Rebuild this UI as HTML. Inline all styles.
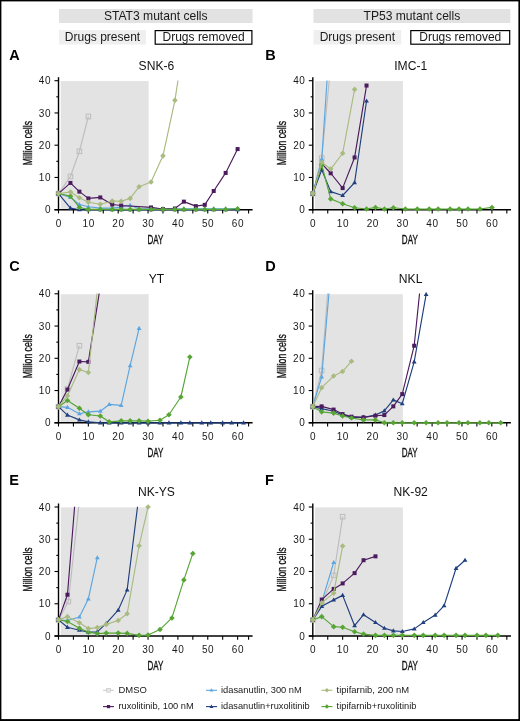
<!DOCTYPE html>
<html><head><meta charset="utf-8"><style>
html,body{margin:0;padding:0;background:#fff;width:520px;height:721px;overflow:hidden}
svg{display:block;will-change:transform}
</style></head><body>
<svg width="520" height="721" viewBox="0 0 520 721" font-family='"Liberation Sans", sans-serif'>
<rect x="0" y="0" width="520" height="721" fill="#fff"/>
<rect x="59" y="9" width="193.5" height="14" fill="#e2e2e2"/>
<text x="155.75" y="20.2" font-size="12.1" text-anchor="middle" fill="#1a1a1a">STAT3 mutant cells</text>
<rect x="59" y="30" width="87" height="14.5" fill="#efefef"/>
<text x="102.5" y="41.3" font-size="12" text-anchor="middle" fill="#1a1a1a">Drugs present</text>
<rect x="155.2" y="30.6" width="96.7" height="13.6" fill="#fff" stroke="#000" stroke-width="1.2"/>
<text x="203.55" y="41.3" font-size="12" text-anchor="middle" fill="#1a1a1a">Drugs removed</text>
<rect x="313.5" y="9" width="196.8" height="14" fill="#e2e2e2"/>
<text x="411.9" y="20.2" font-size="12.1" text-anchor="middle" fill="#1a1a1a">TP53 mutant cells</text>
<rect x="313.5" y="30" width="87.69999999999999" height="14.5" fill="#efefef"/>
<text x="357.35" y="41.3" font-size="12" text-anchor="middle" fill="#1a1a1a">Drugs present</text>
<rect x="410.8" y="30.6" width="98.90000000000002" height="13.6" fill="#fff" stroke="#000" stroke-width="1.2"/>
<text x="460.25" y="41.3" font-size="12" text-anchor="middle" fill="#1a1a1a">Drugs removed</text>
<clipPath id="clipA"><rect x="52.5" y="80.40" width="520" height="139.00"/></clipPath>
<rect x="60.70" y="81.10" width="87.95" height="128.60" fill="#e3e3e3"/>
<line x1="58.5" y1="77.20" x2="58.5" y2="210.45" stroke="#000" stroke-width="1.4"/>
<line x1="54.5" y1="209.7" x2="252.60" y2="209.7" stroke="#000" stroke-width="1.6"/>
<line x1="248.60" y1="209.7" x2="248.60" y2="213.39999999999998" stroke="#000" stroke-width="1.1"/>
<line x1="54.5" y1="209.70" x2="58.5" y2="209.70" stroke="#000" stroke-width="1.1"/>
<text transform="translate(51.20,213.30)" font-size="10.0" letter-spacing="0.6" text-anchor="end" fill="#1a1a1a">0</text>
<line x1="56.3" y1="193.57" x2="58.5" y2="193.57" stroke="#000" stroke-width="1.1"/>
<line x1="54.5" y1="177.45" x2="58.5" y2="177.45" stroke="#000" stroke-width="1.1"/>
<text transform="translate(51.20,181.05)" font-size="10.0" letter-spacing="0.6" text-anchor="end" fill="#1a1a1a">10</text>
<line x1="56.3" y1="161.32" x2="58.5" y2="161.32" stroke="#000" stroke-width="1.1"/>
<line x1="54.5" y1="145.20" x2="58.5" y2="145.20" stroke="#000" stroke-width="1.1"/>
<text transform="translate(51.20,148.80)" font-size="10.0" letter-spacing="0.6" text-anchor="end" fill="#1a1a1a">20</text>
<line x1="56.3" y1="129.07" x2="58.5" y2="129.07" stroke="#000" stroke-width="1.1"/>
<line x1="54.5" y1="112.95" x2="58.5" y2="112.95" stroke="#000" stroke-width="1.1"/>
<text transform="translate(51.20,116.55)" font-size="10.0" letter-spacing="0.6" text-anchor="end" fill="#1a1a1a">30</text>
<line x1="56.3" y1="96.82" x2="58.5" y2="96.82" stroke="#000" stroke-width="1.1"/>
<line x1="54.5" y1="80.70" x2="58.5" y2="80.70" stroke="#000" stroke-width="1.1"/>
<text transform="translate(51.20,84.30)" font-size="10.0" letter-spacing="0.6" text-anchor="end" fill="#1a1a1a">40</text>
<line x1="58.50" y1="209.7" x2="58.50" y2="213.39999999999998" stroke="#000" stroke-width="1.1"/>
<text transform="translate(58.80,226.60)" font-size="10.0" letter-spacing="0.6" text-anchor="middle" fill="#1a1a1a">0</text>
<line x1="73.42" y1="209.7" x2="73.42" y2="213.39999999999998" stroke="#000" stroke-width="1.1"/>
<line x1="88.35" y1="209.7" x2="88.35" y2="213.39999999999998" stroke="#000" stroke-width="1.1"/>
<text transform="translate(88.65,226.60)" font-size="10.0" letter-spacing="0.6" text-anchor="middle" fill="#1a1a1a">10</text>
<line x1="103.28" y1="209.7" x2="103.28" y2="213.39999999999998" stroke="#000" stroke-width="1.1"/>
<line x1="118.20" y1="209.7" x2="118.20" y2="213.39999999999998" stroke="#000" stroke-width="1.1"/>
<text transform="translate(118.50,226.60)" font-size="10.0" letter-spacing="0.6" text-anchor="middle" fill="#1a1a1a">20</text>
<line x1="133.12" y1="209.7" x2="133.12" y2="213.39999999999998" stroke="#000" stroke-width="1.1"/>
<line x1="148.05" y1="209.7" x2="148.05" y2="213.39999999999998" stroke="#000" stroke-width="1.1"/>
<text transform="translate(148.35,226.60)" font-size="10.0" letter-spacing="0.6" text-anchor="middle" fill="#1a1a1a">30</text>
<line x1="162.97" y1="209.7" x2="162.97" y2="213.39999999999998" stroke="#000" stroke-width="1.1"/>
<line x1="177.90" y1="209.7" x2="177.90" y2="213.39999999999998" stroke="#000" stroke-width="1.1"/>
<text transform="translate(178.20,226.60)" font-size="10.0" letter-spacing="0.6" text-anchor="middle" fill="#1a1a1a">40</text>
<line x1="192.82" y1="209.7" x2="192.82" y2="213.39999999999998" stroke="#000" stroke-width="1.1"/>
<line x1="207.75" y1="209.7" x2="207.75" y2="213.39999999999998" stroke="#000" stroke-width="1.1"/>
<text transform="translate(208.05,226.60)" font-size="10.0" letter-spacing="0.6" text-anchor="middle" fill="#1a1a1a">50</text>
<line x1="222.67" y1="209.7" x2="222.67" y2="213.39999999999998" stroke="#000" stroke-width="1.1"/>
<line x1="237.60" y1="209.7" x2="237.60" y2="213.39999999999998" stroke="#000" stroke-width="1.1"/>
<text transform="translate(237.90,226.60)" font-size="10.0" letter-spacing="0.6" text-anchor="middle" fill="#1a1a1a">60</text>
<text transform="translate(155.51,243.70) scale(0.62,1)" font-size="13" text-anchor="middle" fill="#111" stroke="#111" stroke-width="0.35">DAY</text>
<text transform="translate(31.50,143.10) rotate(-90) scale(0.665,1)" font-size="13" text-anchor="middle" fill="#111" stroke="#111" stroke-width="0.35">Million cells</text>
<text x="156.41" y="69.90" font-size="12.1" text-anchor="middle" fill="#111">SNK-6</text>
<text x="9.20" y="59.50" font-size="14.5" font-weight="bold" fill="#000">A</text>
<polyline clip-path="url(#clipA)" points="58.50,193.57 70.44,176.48 79.39,151.33 88.35,116.50" fill="none" stroke="#bdbdbd" stroke-width="1.15" stroke-linejoin="round"/>
<rect x="56.20" y="191.27" width="4.6" height="4.6" fill="none" stroke="#bdbdbd" stroke-width="1"/>
<rect x="68.14" y="174.18" width="4.6" height="4.6" fill="none" stroke="#bdbdbd" stroke-width="1"/>
<rect x="77.09" y="149.03" width="4.6" height="4.6" fill="none" stroke="#bdbdbd" stroke-width="1"/>
<rect x="86.05" y="114.20" width="4.6" height="4.6" fill="none" stroke="#bdbdbd" stroke-width="1"/>
<polyline clip-path="url(#clipA)" points="58.50,193.57 70.44,197.44 79.39,204.54 88.35,206.80 100.29,208.09 112.23,208.09 121.19,207.12 130.14,205.19 139.09,208.73 151.03,208.73 162.97,208.73 174.91,208.73 183.87,208.73 195.81,208.73 204.76,208.73 213.72,208.73 225.66,208.73 237.60,208.73" fill="none" stroke="#5ba6e0" stroke-width="1.15" stroke-linejoin="round"/>
<path d="M58.50,191.07L60.90,195.17L56.10,195.17Z" fill="#5ba6e0"/>
<path d="M70.44,194.94L72.84,199.04L68.04,199.04Z" fill="#5ba6e0"/>
<path d="M79.39,202.04L81.80,206.14L76.99,206.14Z" fill="#5ba6e0"/>
<path d="M88.35,204.30L90.75,208.40L85.95,208.40Z" fill="#5ba6e0"/>
<path d="M100.29,205.59L102.69,209.69L97.89,209.69Z" fill="#5ba6e0"/>
<path d="M112.23,205.59L114.63,209.69L109.83,209.69Z" fill="#5ba6e0"/>
<path d="M121.19,204.62L123.59,208.72L118.78,208.72Z" fill="#5ba6e0"/>
<path d="M130.14,202.69L132.54,206.78L127.74,206.78Z" fill="#5ba6e0"/>
<path d="M139.09,206.23L141.50,210.33L136.69,210.33Z" fill="#5ba6e0"/>
<path d="M151.03,206.23L153.44,210.33L148.63,210.33Z" fill="#5ba6e0"/>
<path d="M162.97,206.23L165.38,210.33L160.57,210.33Z" fill="#5ba6e0"/>
<path d="M174.91,206.23L177.31,210.33L172.51,210.33Z" fill="#5ba6e0"/>
<path d="M183.87,206.23L186.27,210.33L181.47,210.33Z" fill="#5ba6e0"/>
<path d="M195.81,206.23L198.21,210.33L193.41,210.33Z" fill="#5ba6e0"/>
<path d="M204.76,206.23L207.16,210.33L202.36,210.33Z" fill="#5ba6e0"/>
<path d="M213.72,206.23L216.12,210.33L211.32,210.33Z" fill="#5ba6e0"/>
<path d="M225.66,206.23L228.06,210.33L223.26,210.33Z" fill="#5ba6e0"/>
<path d="M237.60,206.23L240.00,210.33L235.20,210.33Z" fill="#5ba6e0"/>
<polyline clip-path="url(#clipA)" points="58.50,193.57 70.44,208.09 79.39,209.70 88.35,209.70 100.29,209.70 112.23,209.70 121.19,209.70 130.14,209.70 139.09,209.70 151.03,209.70 162.97,209.70 174.91,209.70 183.87,209.70 195.81,209.70 204.76,209.70 213.72,209.70 225.66,209.70 237.60,209.70" fill="none" stroke="#1f3f7e" stroke-width="1.15" stroke-linejoin="round"/>
<path d="M58.50,191.07L60.90,195.17L56.10,195.17Z" fill="#1f3f7e"/>
<path d="M70.44,205.59L72.84,209.69L68.04,209.69Z" fill="#1f3f7e"/>
<path d="M79.39,207.20L81.80,211.30L76.99,211.30Z" fill="#1f3f7e"/>
<path d="M88.35,207.20L90.75,211.30L85.95,211.30Z" fill="#1f3f7e"/>
<path d="M100.29,207.20L102.69,211.30L97.89,211.30Z" fill="#1f3f7e"/>
<path d="M112.23,207.20L114.63,211.30L109.83,211.30Z" fill="#1f3f7e"/>
<path d="M121.19,207.20L123.59,211.30L118.78,211.30Z" fill="#1f3f7e"/>
<path d="M130.14,207.20L132.54,211.30L127.74,211.30Z" fill="#1f3f7e"/>
<path d="M139.09,207.20L141.50,211.30L136.69,211.30Z" fill="#1f3f7e"/>
<path d="M151.03,207.20L153.44,211.30L148.63,211.30Z" fill="#1f3f7e"/>
<path d="M162.97,207.20L165.38,211.30L160.57,211.30Z" fill="#1f3f7e"/>
<path d="M174.91,207.20L177.31,211.30L172.51,211.30Z" fill="#1f3f7e"/>
<path d="M183.87,207.20L186.27,211.30L181.47,211.30Z" fill="#1f3f7e"/>
<path d="M195.81,207.20L198.21,211.30L193.41,211.30Z" fill="#1f3f7e"/>
<path d="M204.76,207.20L207.16,211.30L202.36,211.30Z" fill="#1f3f7e"/>
<path d="M213.72,207.20L216.12,211.30L211.32,211.30Z" fill="#1f3f7e"/>
<path d="M225.66,207.20L228.06,211.30L223.26,211.30Z" fill="#1f3f7e"/>
<path d="M237.60,207.20L240.00,211.30L235.20,211.30Z" fill="#1f3f7e"/>
<polyline clip-path="url(#clipA)" points="58.50,193.57 70.44,182.93 79.39,191.64 88.35,198.41 100.29,197.44 112.23,204.54 121.19,205.51 151.03,207.44 162.97,209.05 174.91,208.57 183.87,201.64 195.81,206.15 204.76,204.86 213.72,191.00 225.66,172.94 237.60,149.07" fill="none" stroke="#4b1b5e" stroke-width="1.15" stroke-linejoin="round"/>
<rect x="56.50" y="191.57" width="4" height="4" fill="#4b1b5e"/>
<rect x="68.44" y="180.93" width="4" height="4" fill="#4b1b5e"/>
<rect x="77.39" y="189.64" width="4" height="4" fill="#4b1b5e"/>
<rect x="86.35" y="196.41" width="4" height="4" fill="#4b1b5e"/>
<rect x="98.29" y="195.44" width="4" height="4" fill="#4b1b5e"/>
<rect x="110.23" y="202.54" width="4" height="4" fill="#4b1b5e"/>
<rect x="119.19" y="203.51" width="4" height="4" fill="#4b1b5e"/>
<rect x="149.03" y="205.44" width="4" height="4" fill="#4b1b5e"/>
<rect x="160.97" y="207.05" width="4" height="4" fill="#4b1b5e"/>
<rect x="172.91" y="206.57" width="4" height="4" fill="#4b1b5e"/>
<rect x="181.87" y="199.64" width="4" height="4" fill="#4b1b5e"/>
<rect x="193.81" y="204.15" width="4" height="4" fill="#4b1b5e"/>
<rect x="202.76" y="202.86" width="4" height="4" fill="#4b1b5e"/>
<rect x="211.72" y="189.00" width="4" height="4" fill="#4b1b5e"/>
<rect x="223.66" y="170.94" width="4" height="4" fill="#4b1b5e"/>
<rect x="235.60" y="147.07" width="4" height="4" fill="#4b1b5e"/>
<polyline clip-path="url(#clipA)" points="58.50,193.57 70.44,196.15 79.39,207.44 88.35,209.38 100.29,209.38 112.23,209.38 121.19,209.38 130.14,209.38 139.09,209.38 151.03,209.38 162.97,209.38 174.91,209.38 183.87,209.38 195.81,209.38 204.76,209.38 213.72,209.38 225.66,209.38 237.60,208.73" fill="none" stroke="#56a535" stroke-width="1.15" stroke-linejoin="round"/>
<path d="M58.50,190.77L61.30,193.57L58.50,196.38L55.70,193.57Z" fill="#56a535"/>
<path d="M70.44,193.35L73.24,196.15L70.44,198.95L67.64,196.15Z" fill="#56a535"/>
<path d="M79.39,204.64L82.19,207.44L79.39,210.24L76.59,207.44Z" fill="#56a535"/>
<path d="M88.35,206.58L91.15,209.38L88.35,212.18L85.55,209.38Z" fill="#56a535"/>
<path d="M100.29,206.58L103.09,209.38L100.29,212.18L97.49,209.38Z" fill="#56a535"/>
<path d="M112.23,206.58L115.03,209.38L112.23,212.18L109.43,209.38Z" fill="#56a535"/>
<path d="M121.19,206.58L123.98,209.38L121.19,212.18L118.39,209.38Z" fill="#56a535"/>
<path d="M130.14,206.58L132.94,209.38L130.14,212.18L127.34,209.38Z" fill="#56a535"/>
<path d="M139.09,206.58L141.90,209.38L139.09,212.18L136.29,209.38Z" fill="#56a535"/>
<path d="M151.03,206.58L153.84,209.38L151.03,212.18L148.23,209.38Z" fill="#56a535"/>
<path d="M162.97,206.58L165.78,209.38L162.97,212.18L160.17,209.38Z" fill="#56a535"/>
<path d="M174.91,206.58L177.72,209.38L174.91,212.18L172.11,209.38Z" fill="#56a535"/>
<path d="M183.87,206.58L186.67,209.38L183.87,212.18L181.07,209.38Z" fill="#56a535"/>
<path d="M195.81,206.58L198.61,209.38L195.81,212.18L193.01,209.38Z" fill="#56a535"/>
<path d="M204.76,206.58L207.56,209.38L204.76,212.18L201.96,209.38Z" fill="#56a535"/>
<path d="M213.72,206.58L216.52,209.38L213.72,212.18L210.92,209.38Z" fill="#56a535"/>
<path d="M225.66,206.58L228.46,209.38L225.66,212.18L222.86,209.38Z" fill="#56a535"/>
<path d="M237.60,205.93L240.40,208.73L237.60,211.53L234.80,208.73Z" fill="#56a535"/>
<polyline clip-path="url(#clipA)" points="58.50,193.57 70.44,191.96 79.39,197.77 88.35,202.28 100.29,204.22 112.23,200.99 121.19,201.31 130.14,198.41 139.09,186.80 151.03,181.96 162.97,155.84 174.91,100.37 183.87,42.00" fill="none" stroke="#a9bb80" stroke-width="1.15" stroke-linejoin="round"/>
<path d="M58.50,190.77L61.30,193.57L58.50,196.38L55.70,193.57Z" fill="#a9bb80"/>
<path d="M70.44,189.16L73.24,191.96L70.44,194.76L67.64,191.96Z" fill="#a9bb80"/>
<path d="M79.39,194.97L82.19,197.77L79.39,200.57L76.59,197.77Z" fill="#a9bb80"/>
<path d="M88.35,199.48L91.15,202.28L88.35,205.08L85.55,202.28Z" fill="#a9bb80"/>
<path d="M100.29,201.42L103.09,204.22L100.29,207.02L97.49,204.22Z" fill="#a9bb80"/>
<path d="M112.23,198.19L115.03,200.99L112.23,203.79L109.43,200.99Z" fill="#a9bb80"/>
<path d="M121.19,198.51L123.98,201.31L121.19,204.12L118.39,201.31Z" fill="#a9bb80"/>
<path d="M130.14,195.61L132.94,198.41L130.14,201.21L127.34,198.41Z" fill="#a9bb80"/>
<path d="M139.09,184.00L141.90,186.80L139.09,189.60L136.29,186.80Z" fill="#a9bb80"/>
<path d="M151.03,179.16L153.84,181.96L151.03,184.76L148.23,181.96Z" fill="#a9bb80"/>
<path d="M162.97,153.04L165.78,155.84L162.97,158.64L160.17,155.84Z" fill="#a9bb80"/>
<path d="M174.91,97.57L177.72,100.37L174.91,103.17L172.11,100.37Z" fill="#a9bb80"/>
<clipPath id="clipB"><rect x="306.8" y="80.40" width="520" height="139.00"/></clipPath>
<rect x="315.00" y="81.10" width="87.95" height="128.60" fill="#e3e3e3"/>
<line x1="312.8" y1="77.20" x2="312.8" y2="210.45" stroke="#000" stroke-width="1.4"/>
<line x1="308.8" y1="209.7" x2="511.00" y2="209.7" stroke="#000" stroke-width="1.6"/>
<line x1="308.8" y1="209.70" x2="312.8" y2="209.70" stroke="#000" stroke-width="1.1"/>
<text transform="translate(305.50,213.30)" font-size="10.0" letter-spacing="0.6" text-anchor="end" fill="#1a1a1a">0</text>
<line x1="310.6" y1="193.57" x2="312.8" y2="193.57" stroke="#000" stroke-width="1.1"/>
<line x1="308.8" y1="177.45" x2="312.8" y2="177.45" stroke="#000" stroke-width="1.1"/>
<text transform="translate(305.50,181.05)" font-size="10.0" letter-spacing="0.6" text-anchor="end" fill="#1a1a1a">10</text>
<line x1="310.6" y1="161.32" x2="312.8" y2="161.32" stroke="#000" stroke-width="1.1"/>
<line x1="308.8" y1="145.20" x2="312.8" y2="145.20" stroke="#000" stroke-width="1.1"/>
<text transform="translate(305.50,148.80)" font-size="10.0" letter-spacing="0.6" text-anchor="end" fill="#1a1a1a">20</text>
<line x1="310.6" y1="129.07" x2="312.8" y2="129.07" stroke="#000" stroke-width="1.1"/>
<line x1="308.8" y1="112.95" x2="312.8" y2="112.95" stroke="#000" stroke-width="1.1"/>
<text transform="translate(305.50,116.55)" font-size="10.0" letter-spacing="0.6" text-anchor="end" fill="#1a1a1a">30</text>
<line x1="310.6" y1="96.82" x2="312.8" y2="96.82" stroke="#000" stroke-width="1.1"/>
<line x1="308.8" y1="80.70" x2="312.8" y2="80.70" stroke="#000" stroke-width="1.1"/>
<text transform="translate(305.50,84.30)" font-size="10.0" letter-spacing="0.6" text-anchor="end" fill="#1a1a1a">40</text>
<line x1="312.80" y1="209.7" x2="312.80" y2="213.39999999999998" stroke="#000" stroke-width="1.1"/>
<text transform="translate(313.10,226.60)" font-size="10.0" letter-spacing="0.6" text-anchor="middle" fill="#1a1a1a">0</text>
<line x1="327.73" y1="209.7" x2="327.73" y2="213.39999999999998" stroke="#000" stroke-width="1.1"/>
<line x1="342.65" y1="209.7" x2="342.65" y2="213.39999999999998" stroke="#000" stroke-width="1.1"/>
<text transform="translate(342.95,226.60)" font-size="10.0" letter-spacing="0.6" text-anchor="middle" fill="#1a1a1a">10</text>
<line x1="357.57" y1="209.7" x2="357.57" y2="213.39999999999998" stroke="#000" stroke-width="1.1"/>
<line x1="372.50" y1="209.7" x2="372.50" y2="213.39999999999998" stroke="#000" stroke-width="1.1"/>
<text transform="translate(372.80,226.60)" font-size="10.0" letter-spacing="0.6" text-anchor="middle" fill="#1a1a1a">20</text>
<line x1="387.43" y1="209.7" x2="387.43" y2="213.39999999999998" stroke="#000" stroke-width="1.1"/>
<line x1="402.35" y1="209.7" x2="402.35" y2="213.39999999999998" stroke="#000" stroke-width="1.1"/>
<text transform="translate(402.65,226.60)" font-size="10.0" letter-spacing="0.6" text-anchor="middle" fill="#1a1a1a">30</text>
<line x1="417.27" y1="209.7" x2="417.27" y2="213.39999999999998" stroke="#000" stroke-width="1.1"/>
<line x1="432.20" y1="209.7" x2="432.20" y2="213.39999999999998" stroke="#000" stroke-width="1.1"/>
<text transform="translate(432.50,226.60)" font-size="10.0" letter-spacing="0.6" text-anchor="middle" fill="#1a1a1a">40</text>
<line x1="447.12" y1="209.7" x2="447.12" y2="213.39999999999998" stroke="#000" stroke-width="1.1"/>
<line x1="462.05" y1="209.7" x2="462.05" y2="213.39999999999998" stroke="#000" stroke-width="1.1"/>
<text transform="translate(462.35,226.60)" font-size="10.0" letter-spacing="0.6" text-anchor="middle" fill="#1a1a1a">50</text>
<line x1="476.98" y1="209.7" x2="476.98" y2="213.39999999999998" stroke="#000" stroke-width="1.1"/>
<line x1="491.90" y1="209.7" x2="491.90" y2="213.39999999999998" stroke="#000" stroke-width="1.1"/>
<text transform="translate(492.20,226.60)" font-size="10.0" letter-spacing="0.6" text-anchor="middle" fill="#1a1a1a">60</text>
<line x1="506.83" y1="209.7" x2="506.83" y2="213.39999999999998" stroke="#000" stroke-width="1.1"/>
<text transform="translate(409.81,243.70) scale(0.62,1)" font-size="13" text-anchor="middle" fill="#111" stroke="#111" stroke-width="0.35">DAY</text>
<text transform="translate(285.80,143.10) rotate(-90) scale(0.665,1)" font-size="13" text-anchor="middle" fill="#111" stroke="#111" stroke-width="0.35">Million cells</text>
<text x="410.71" y="69.90" font-size="12.1" text-anchor="middle" fill="#111">IMC-1</text>
<text x="265.20" y="59.50" font-size="14.5" font-weight="bold" fill="#000">B</text>
<polyline clip-path="url(#clipB)" points="312.80,193.57 321.75,158.10 330.71,64.90" fill="none" stroke="#bdbdbd" stroke-width="1.15" stroke-linejoin="round"/>
<rect x="310.50" y="191.27" width="4.6" height="4.6" fill="none" stroke="#bdbdbd" stroke-width="1"/>
<rect x="319.45" y="155.80" width="4.6" height="4.6" fill="none" stroke="#bdbdbd" stroke-width="1"/>
<polyline clip-path="url(#clipB)" points="312.80,193.57 321.75,159.07 330.71,25.55" fill="none" stroke="#5ba6e0" stroke-width="1.15" stroke-linejoin="round"/>
<path d="M312.80,191.07L315.20,195.17L310.40,195.17Z" fill="#5ba6e0"/>
<path d="M321.75,156.57L324.15,160.67L319.36,160.67Z" fill="#5ba6e0"/>
<polyline clip-path="url(#clipB)" points="312.80,193.57 321.75,169.71 330.71,191.64 342.65,195.51 354.59,182.61 366.53,101.02" fill="none" stroke="#1f3f7e" stroke-width="1.15" stroke-linejoin="round"/>
<path d="M312.80,191.07L315.20,195.17L310.40,195.17Z" fill="#1f3f7e"/>
<path d="M321.75,167.21L324.15,171.31L319.36,171.31Z" fill="#1f3f7e"/>
<path d="M330.71,189.14L333.11,193.24L328.31,193.24Z" fill="#1f3f7e"/>
<path d="M342.65,193.01L345.05,197.11L340.25,197.11Z" fill="#1f3f7e"/>
<path d="M354.59,180.11L356.99,184.21L352.19,184.21Z" fill="#1f3f7e"/>
<path d="M366.53,98.52L368.93,102.62L364.13,102.62Z" fill="#1f3f7e"/>
<polyline clip-path="url(#clipB)" points="312.80,193.57 321.75,163.58 330.71,173.26 342.65,188.09 354.59,157.45 366.53,85.54" fill="none" stroke="#4b1b5e" stroke-width="1.15" stroke-linejoin="round"/>
<rect x="310.80" y="191.57" width="4" height="4" fill="#4b1b5e"/>
<rect x="319.75" y="161.58" width="4" height="4" fill="#4b1b5e"/>
<rect x="328.71" y="171.26" width="4" height="4" fill="#4b1b5e"/>
<rect x="340.65" y="186.09" width="4" height="4" fill="#4b1b5e"/>
<rect x="352.59" y="155.45" width="4" height="4" fill="#4b1b5e"/>
<rect x="364.53" y="83.54" width="4" height="4" fill="#4b1b5e"/>
<polyline clip-path="url(#clipB)" points="312.80,193.57 321.75,164.87 330.71,198.90 342.65,203.73 354.59,207.76 366.53,209.05 375.49,207.44 384.44,209.05 393.39,207.76 405.34,209.05 417.27,209.05 429.22,209.05 438.17,209.05 450.11,209.05 459.06,209.05 468.02,209.05 479.96,209.05 491.90,207.44" fill="none" stroke="#56a535" stroke-width="1.15" stroke-linejoin="round"/>
<path d="M312.80,190.77L315.60,193.57L312.80,196.38L310.00,193.57Z" fill="#56a535"/>
<path d="M321.75,162.07L324.56,164.87L321.75,167.67L318.95,164.87Z" fill="#56a535"/>
<path d="M330.71,196.10L333.51,198.90L330.71,201.70L327.91,198.90Z" fill="#56a535"/>
<path d="M342.65,200.93L345.45,203.73L342.65,206.53L339.85,203.73Z" fill="#56a535"/>
<path d="M354.59,204.96L357.39,207.76L354.59,210.56L351.79,207.76Z" fill="#56a535"/>
<path d="M366.53,206.25L369.33,209.05L366.53,211.85L363.73,209.05Z" fill="#56a535"/>
<path d="M375.49,204.64L378.29,207.44L375.49,210.24L372.69,207.44Z" fill="#56a535"/>
<path d="M384.44,206.25L387.24,209.05L384.44,211.85L381.64,209.05Z" fill="#56a535"/>
<path d="M393.39,204.96L396.19,207.76L393.39,210.56L390.59,207.76Z" fill="#56a535"/>
<path d="M405.34,206.25L408.14,209.05L405.34,211.85L402.54,209.05Z" fill="#56a535"/>
<path d="M417.27,206.25L420.07,209.05L417.27,211.85L414.47,209.05Z" fill="#56a535"/>
<path d="M429.22,206.25L432.02,209.05L429.22,211.85L426.42,209.05Z" fill="#56a535"/>
<path d="M438.17,206.25L440.97,209.05L438.17,211.85L435.37,209.05Z" fill="#56a535"/>
<path d="M450.11,206.25L452.91,209.05L450.11,211.85L447.31,209.05Z" fill="#56a535"/>
<path d="M459.06,206.25L461.87,209.05L459.06,211.85L456.26,209.05Z" fill="#56a535"/>
<path d="M468.02,206.25L470.82,209.05L468.02,211.85L465.22,209.05Z" fill="#56a535"/>
<path d="M479.96,206.25L482.76,209.05L479.96,211.85L477.16,209.05Z" fill="#56a535"/>
<path d="M491.90,204.64L494.70,207.44L491.90,210.24L489.10,207.44Z" fill="#56a535"/>
<polyline clip-path="url(#clipB)" points="312.80,193.57 321.75,162.29 330.71,169.06 342.65,153.26 354.59,89.41" fill="none" stroke="#a9bb80" stroke-width="1.15" stroke-linejoin="round"/>
<path d="M312.80,190.77L315.60,193.57L312.80,196.38L310.00,193.57Z" fill="#a9bb80"/>
<path d="M321.75,159.49L324.56,162.29L321.75,165.09L318.95,162.29Z" fill="#a9bb80"/>
<path d="M330.71,166.26L333.51,169.06L330.71,171.87L327.91,169.06Z" fill="#a9bb80"/>
<path d="M342.65,150.46L345.45,153.26L342.65,156.06L339.85,153.26Z" fill="#a9bb80"/>
<path d="M354.59,86.61L357.39,89.41L354.59,92.21L351.79,89.41Z" fill="#a9bb80"/>
<clipPath id="clipC"><rect x="52.5" y="293.50" width="520" height="139.00"/></clipPath>
<rect x="60.70" y="294.20" width="87.95" height="128.60" fill="#e3e3e3"/>
<line x1="58.5" y1="290.30" x2="58.5" y2="423.55" stroke="#000" stroke-width="1.4"/>
<line x1="54.5" y1="422.8" x2="252.60" y2="422.8" stroke="#000" stroke-width="1.6"/>
<line x1="248.60" y1="422.8" x2="248.60" y2="426.5" stroke="#000" stroke-width="1.1"/>
<line x1="54.5" y1="422.80" x2="58.5" y2="422.80" stroke="#000" stroke-width="1.1"/>
<text transform="translate(51.20,426.40)" font-size="10.0" letter-spacing="0.6" text-anchor="end" fill="#1a1a1a">0</text>
<line x1="56.3" y1="406.68" x2="58.5" y2="406.68" stroke="#000" stroke-width="1.1"/>
<line x1="54.5" y1="390.55" x2="58.5" y2="390.55" stroke="#000" stroke-width="1.1"/>
<text transform="translate(51.20,394.15)" font-size="10.0" letter-spacing="0.6" text-anchor="end" fill="#1a1a1a">10</text>
<line x1="56.3" y1="374.43" x2="58.5" y2="374.43" stroke="#000" stroke-width="1.1"/>
<line x1="54.5" y1="358.30" x2="58.5" y2="358.30" stroke="#000" stroke-width="1.1"/>
<text transform="translate(51.20,361.90)" font-size="10.0" letter-spacing="0.6" text-anchor="end" fill="#1a1a1a">20</text>
<line x1="56.3" y1="342.18" x2="58.5" y2="342.18" stroke="#000" stroke-width="1.1"/>
<line x1="54.5" y1="326.05" x2="58.5" y2="326.05" stroke="#000" stroke-width="1.1"/>
<text transform="translate(51.20,329.65)" font-size="10.0" letter-spacing="0.6" text-anchor="end" fill="#1a1a1a">30</text>
<line x1="56.3" y1="309.93" x2="58.5" y2="309.93" stroke="#000" stroke-width="1.1"/>
<line x1="54.5" y1="293.80" x2="58.5" y2="293.80" stroke="#000" stroke-width="1.1"/>
<text transform="translate(51.20,297.40)" font-size="10.0" letter-spacing="0.6" text-anchor="end" fill="#1a1a1a">40</text>
<line x1="58.50" y1="422.8" x2="58.50" y2="426.5" stroke="#000" stroke-width="1.1"/>
<text transform="translate(58.80,439.70)" font-size="10.0" letter-spacing="0.6" text-anchor="middle" fill="#1a1a1a">0</text>
<line x1="73.42" y1="422.8" x2="73.42" y2="426.5" stroke="#000" stroke-width="1.1"/>
<line x1="88.35" y1="422.8" x2="88.35" y2="426.5" stroke="#000" stroke-width="1.1"/>
<text transform="translate(88.65,439.70)" font-size="10.0" letter-spacing="0.6" text-anchor="middle" fill="#1a1a1a">10</text>
<line x1="103.28" y1="422.8" x2="103.28" y2="426.5" stroke="#000" stroke-width="1.1"/>
<line x1="118.20" y1="422.8" x2="118.20" y2="426.5" stroke="#000" stroke-width="1.1"/>
<text transform="translate(118.50,439.70)" font-size="10.0" letter-spacing="0.6" text-anchor="middle" fill="#1a1a1a">20</text>
<line x1="133.12" y1="422.8" x2="133.12" y2="426.5" stroke="#000" stroke-width="1.1"/>
<line x1="148.05" y1="422.8" x2="148.05" y2="426.5" stroke="#000" stroke-width="1.1"/>
<text transform="translate(148.35,439.70)" font-size="10.0" letter-spacing="0.6" text-anchor="middle" fill="#1a1a1a">30</text>
<line x1="162.97" y1="422.8" x2="162.97" y2="426.5" stroke="#000" stroke-width="1.1"/>
<line x1="177.90" y1="422.8" x2="177.90" y2="426.5" stroke="#000" stroke-width="1.1"/>
<text transform="translate(178.20,439.70)" font-size="10.0" letter-spacing="0.6" text-anchor="middle" fill="#1a1a1a">40</text>
<line x1="192.82" y1="422.8" x2="192.82" y2="426.5" stroke="#000" stroke-width="1.1"/>
<line x1="207.75" y1="422.8" x2="207.75" y2="426.5" stroke="#000" stroke-width="1.1"/>
<text transform="translate(208.05,439.70)" font-size="10.0" letter-spacing="0.6" text-anchor="middle" fill="#1a1a1a">50</text>
<line x1="222.67" y1="422.8" x2="222.67" y2="426.5" stroke="#000" stroke-width="1.1"/>
<line x1="237.60" y1="422.8" x2="237.60" y2="426.5" stroke="#000" stroke-width="1.1"/>
<text transform="translate(237.90,439.70)" font-size="10.0" letter-spacing="0.6" text-anchor="middle" fill="#1a1a1a">60</text>
<text transform="translate(155.51,456.80) scale(0.62,1)" font-size="13" text-anchor="middle" fill="#111" stroke="#111" stroke-width="0.35">DAY</text>
<text transform="translate(31.50,356.20) rotate(-90) scale(0.665,1)" font-size="13" text-anchor="middle" fill="#111" stroke="#111" stroke-width="0.35">Million cells</text>
<text x="156.41" y="283.00" font-size="12.1" text-anchor="middle" fill="#111">YT</text>
<text x="9.30" y="270.90" font-size="14.5" font-weight="bold" fill="#000">C</text>
<polyline clip-path="url(#clipC)" points="58.50,406.68 67.45,388.94 79.39,345.72" fill="none" stroke="#bdbdbd" stroke-width="1.15" stroke-linejoin="round"/>
<rect x="56.20" y="404.38" width="4.6" height="4.6" fill="none" stroke="#bdbdbd" stroke-width="1"/>
<rect x="65.16" y="386.64" width="4.6" height="4.6" fill="none" stroke="#bdbdbd" stroke-width="1"/>
<rect x="77.09" y="343.42" width="4.6" height="4.6" fill="none" stroke="#bdbdbd" stroke-width="1"/>
<polyline clip-path="url(#clipC)" points="58.50,406.68 67.45,407.32 79.39,413.77 88.35,411.84 100.29,411.19 109.25,404.42 121.19,405.38 130.14,365.72 139.09,328.31" fill="none" stroke="#5ba6e0" stroke-width="1.15" stroke-linejoin="round"/>
<path d="M58.50,404.18L60.90,408.28L56.10,408.28Z" fill="#5ba6e0"/>
<path d="M67.45,404.82L69.86,408.92L65.05,408.92Z" fill="#5ba6e0"/>
<path d="M79.39,411.27L81.80,415.37L76.99,415.37Z" fill="#5ba6e0"/>
<path d="M88.35,409.34L90.75,413.44L85.95,413.44Z" fill="#5ba6e0"/>
<path d="M100.29,408.69L102.69,412.79L97.89,412.79Z" fill="#5ba6e0"/>
<path d="M109.25,401.92L111.65,406.02L106.84,406.02Z" fill="#5ba6e0"/>
<path d="M121.19,402.88L123.59,406.99L118.78,406.99Z" fill="#5ba6e0"/>
<path d="M130.14,363.22L132.54,367.32L127.74,367.32Z" fill="#5ba6e0"/>
<path d="M139.09,325.81L141.50,329.91L136.69,329.91Z" fill="#5ba6e0"/>
<polyline clip-path="url(#clipC)" points="58.50,406.68 67.45,415.06 79.39,419.90 88.35,421.83 100.29,422.80 109.25,422.80 121.19,422.80 130.14,422.80 139.09,422.80 148.05,422.80 159.99,422.80 168.94,422.80 180.88,422.80 189.84,422.80 201.78,422.80 210.73,422.80 222.67,422.80 231.63,422.80 243.57,422.80" fill="none" stroke="#1f3f7e" stroke-width="1.15" stroke-linejoin="round"/>
<path d="M58.50,404.18L60.90,408.28L56.10,408.28Z" fill="#1f3f7e"/>
<path d="M67.45,412.56L69.86,416.66L65.05,416.66Z" fill="#1f3f7e"/>
<path d="M79.39,417.40L81.80,421.50L76.99,421.50Z" fill="#1f3f7e"/>
<path d="M88.35,419.33L90.75,423.43L85.95,423.43Z" fill="#1f3f7e"/>
<path d="M100.29,420.30L102.69,424.40L97.89,424.40Z" fill="#1f3f7e"/>
<path d="M109.25,420.30L111.65,424.40L106.84,424.40Z" fill="#1f3f7e"/>
<path d="M121.19,420.30L123.59,424.40L118.78,424.40Z" fill="#1f3f7e"/>
<path d="M130.14,420.30L132.54,424.40L127.74,424.40Z" fill="#1f3f7e"/>
<path d="M139.09,420.30L141.50,424.40L136.69,424.40Z" fill="#1f3f7e"/>
<path d="M148.05,420.30L150.45,424.40L145.65,424.40Z" fill="#1f3f7e"/>
<path d="M159.99,420.30L162.39,424.40L157.59,424.40Z" fill="#1f3f7e"/>
<path d="M168.94,420.30L171.34,424.40L166.54,424.40Z" fill="#1f3f7e"/>
<path d="M180.88,420.30L183.28,424.40L178.48,424.40Z" fill="#1f3f7e"/>
<path d="M189.84,420.30L192.24,424.40L187.44,424.40Z" fill="#1f3f7e"/>
<path d="M201.78,420.30L204.18,424.40L199.38,424.40Z" fill="#1f3f7e"/>
<path d="M210.73,420.30L213.13,424.40L208.33,424.40Z" fill="#1f3f7e"/>
<path d="M222.67,420.30L225.07,424.40L220.27,424.40Z" fill="#1f3f7e"/>
<path d="M231.63,420.30L234.03,424.40L229.23,424.40Z" fill="#1f3f7e"/>
<path d="M243.57,420.30L245.97,424.40L241.17,424.40Z" fill="#1f3f7e"/>
<polyline clip-path="url(#clipC)" points="58.50,406.68 67.45,389.58 79.39,361.53 88.35,361.85 100.29,286.38" fill="none" stroke="#4b1b5e" stroke-width="1.15" stroke-linejoin="round"/>
<rect x="56.50" y="404.68" width="4" height="4" fill="#4b1b5e"/>
<rect x="65.45" y="387.58" width="4" height="4" fill="#4b1b5e"/>
<rect x="77.39" y="359.53" width="4" height="4" fill="#4b1b5e"/>
<rect x="86.35" y="359.85" width="4" height="4" fill="#4b1b5e"/>
<polyline clip-path="url(#clipC)" points="58.50,406.68 67.45,400.55 79.39,408.29 88.35,414.74 100.29,416.03 109.25,421.83 121.19,420.87 130.14,420.87 139.09,420.87 148.05,421.19 159.99,420.22 168.94,414.74 180.88,397.00 189.84,357.01" fill="none" stroke="#56a535" stroke-width="1.15" stroke-linejoin="round"/>
<path d="M58.50,403.88L61.30,406.68L58.50,409.48L55.70,406.68Z" fill="#56a535"/>
<path d="M67.45,397.75L70.25,400.55L67.45,403.35L64.66,400.55Z" fill="#56a535"/>
<path d="M79.39,405.49L82.19,408.29L79.39,411.09L76.59,408.29Z" fill="#56a535"/>
<path d="M88.35,411.94L91.15,414.74L88.35,417.54L85.55,414.74Z" fill="#56a535"/>
<path d="M100.29,413.23L103.09,416.03L100.29,418.83L97.49,416.03Z" fill="#56a535"/>
<path d="M109.25,419.03L112.05,421.83L109.25,424.63L106.45,421.83Z" fill="#56a535"/>
<path d="M121.19,418.06L123.98,420.87L121.19,423.67L118.39,420.87Z" fill="#56a535"/>
<path d="M130.14,418.06L132.94,420.87L130.14,423.67L127.34,420.87Z" fill="#56a535"/>
<path d="M139.09,418.06L141.90,420.87L139.09,423.67L136.29,420.87Z" fill="#56a535"/>
<path d="M148.05,418.39L150.85,421.19L148.05,423.99L145.25,421.19Z" fill="#56a535"/>
<path d="M159.99,417.42L162.79,420.22L159.99,423.02L157.19,420.22Z" fill="#56a535"/>
<path d="M168.94,411.94L171.75,414.74L168.94,417.54L166.14,414.74Z" fill="#56a535"/>
<path d="M180.88,394.20L183.69,397.00L180.88,399.80L178.08,397.00Z" fill="#56a535"/>
<path d="M189.84,354.21L192.64,357.01L189.84,359.81L187.04,357.01Z" fill="#56a535"/>
<polyline clip-path="url(#clipC)" points="58.50,406.68 67.45,395.71 79.39,369.59 88.35,372.49 97.31,290.58" fill="none" stroke="#a9bb80" stroke-width="1.15" stroke-linejoin="round"/>
<path d="M58.50,403.88L61.30,406.68L58.50,409.48L55.70,406.68Z" fill="#a9bb80"/>
<path d="M67.45,392.91L70.25,395.71L67.45,398.51L64.66,395.71Z" fill="#a9bb80"/>
<path d="M79.39,366.79L82.19,369.59L79.39,372.39L76.59,369.59Z" fill="#a9bb80"/>
<path d="M88.35,369.69L91.15,372.49L88.35,375.29L85.55,372.49Z" fill="#a9bb80"/>
<clipPath id="clipD"><rect x="306.7" y="293.50" width="520" height="139.00"/></clipPath>
<rect x="314.90" y="294.20" width="87.95" height="128.60" fill="#e3e3e3"/>
<line x1="312.7" y1="290.30" x2="312.7" y2="423.55" stroke="#000" stroke-width="1.4"/>
<line x1="308.7" y1="422.8" x2="510.90" y2="422.8" stroke="#000" stroke-width="1.6"/>
<line x1="308.7" y1="422.80" x2="312.7" y2="422.80" stroke="#000" stroke-width="1.1"/>
<text transform="translate(305.40,426.40)" font-size="10.0" letter-spacing="0.6" text-anchor="end" fill="#1a1a1a">0</text>
<line x1="310.5" y1="406.68" x2="312.7" y2="406.68" stroke="#000" stroke-width="1.1"/>
<line x1="308.7" y1="390.55" x2="312.7" y2="390.55" stroke="#000" stroke-width="1.1"/>
<text transform="translate(305.40,394.15)" font-size="10.0" letter-spacing="0.6" text-anchor="end" fill="#1a1a1a">10</text>
<line x1="310.5" y1="374.43" x2="312.7" y2="374.43" stroke="#000" stroke-width="1.1"/>
<line x1="308.7" y1="358.30" x2="312.7" y2="358.30" stroke="#000" stroke-width="1.1"/>
<text transform="translate(305.40,361.90)" font-size="10.0" letter-spacing="0.6" text-anchor="end" fill="#1a1a1a">20</text>
<line x1="310.5" y1="342.18" x2="312.7" y2="342.18" stroke="#000" stroke-width="1.1"/>
<line x1="308.7" y1="326.05" x2="312.7" y2="326.05" stroke="#000" stroke-width="1.1"/>
<text transform="translate(305.40,329.65)" font-size="10.0" letter-spacing="0.6" text-anchor="end" fill="#1a1a1a">30</text>
<line x1="310.5" y1="309.93" x2="312.7" y2="309.93" stroke="#000" stroke-width="1.1"/>
<line x1="308.7" y1="293.80" x2="312.7" y2="293.80" stroke="#000" stroke-width="1.1"/>
<text transform="translate(305.40,297.40)" font-size="10.0" letter-spacing="0.6" text-anchor="end" fill="#1a1a1a">40</text>
<line x1="312.70" y1="422.8" x2="312.70" y2="426.5" stroke="#000" stroke-width="1.1"/>
<text transform="translate(313.00,439.70)" font-size="10.0" letter-spacing="0.6" text-anchor="middle" fill="#1a1a1a">0</text>
<line x1="327.62" y1="422.8" x2="327.62" y2="426.5" stroke="#000" stroke-width="1.1"/>
<line x1="342.55" y1="422.8" x2="342.55" y2="426.5" stroke="#000" stroke-width="1.1"/>
<text transform="translate(342.85,439.70)" font-size="10.0" letter-spacing="0.6" text-anchor="middle" fill="#1a1a1a">10</text>
<line x1="357.47" y1="422.8" x2="357.47" y2="426.5" stroke="#000" stroke-width="1.1"/>
<line x1="372.40" y1="422.8" x2="372.40" y2="426.5" stroke="#000" stroke-width="1.1"/>
<text transform="translate(372.70,439.70)" font-size="10.0" letter-spacing="0.6" text-anchor="middle" fill="#1a1a1a">20</text>
<line x1="387.32" y1="422.8" x2="387.32" y2="426.5" stroke="#000" stroke-width="1.1"/>
<line x1="402.25" y1="422.8" x2="402.25" y2="426.5" stroke="#000" stroke-width="1.1"/>
<text transform="translate(402.55,439.70)" font-size="10.0" letter-spacing="0.6" text-anchor="middle" fill="#1a1a1a">30</text>
<line x1="417.17" y1="422.8" x2="417.17" y2="426.5" stroke="#000" stroke-width="1.1"/>
<line x1="432.10" y1="422.8" x2="432.10" y2="426.5" stroke="#000" stroke-width="1.1"/>
<text transform="translate(432.40,439.70)" font-size="10.0" letter-spacing="0.6" text-anchor="middle" fill="#1a1a1a">40</text>
<line x1="447.02" y1="422.8" x2="447.02" y2="426.5" stroke="#000" stroke-width="1.1"/>
<line x1="461.95" y1="422.8" x2="461.95" y2="426.5" stroke="#000" stroke-width="1.1"/>
<text transform="translate(462.25,439.70)" font-size="10.0" letter-spacing="0.6" text-anchor="middle" fill="#1a1a1a">50</text>
<line x1="476.88" y1="422.8" x2="476.88" y2="426.5" stroke="#000" stroke-width="1.1"/>
<line x1="491.80" y1="422.8" x2="491.80" y2="426.5" stroke="#000" stroke-width="1.1"/>
<text transform="translate(492.10,439.70)" font-size="10.0" letter-spacing="0.6" text-anchor="middle" fill="#1a1a1a">60</text>
<line x1="506.73" y1="422.8" x2="506.73" y2="426.5" stroke="#000" stroke-width="1.1"/>
<text transform="translate(409.71,456.80) scale(0.62,1)" font-size="13" text-anchor="middle" fill="#111" stroke="#111" stroke-width="0.35">DAY</text>
<text transform="translate(285.70,356.20) rotate(-90) scale(0.665,1)" font-size="13" text-anchor="middle" fill="#111" stroke="#111" stroke-width="0.35">Million cells</text>
<text x="410.61" y="283.00" font-size="12.1" text-anchor="middle" fill="#111">NKL</text>
<text x="265.30" y="270.90" font-size="14.5" font-weight="bold" fill="#000">D</text>
<polyline clip-path="url(#clipD)" points="312.70,406.68 321.65,370.56 330.61,254.78" fill="none" stroke="#bdbdbd" stroke-width="1.15" stroke-linejoin="round"/>
<rect x="310.40" y="404.38" width="4.6" height="4.6" fill="none" stroke="#bdbdbd" stroke-width="1"/>
<rect x="319.35" y="368.25" width="4.6" height="4.6" fill="none" stroke="#bdbdbd" stroke-width="1"/>
<polyline clip-path="url(#clipD)" points="312.70,406.68 321.65,377.00 330.61,274.45" fill="none" stroke="#5ba6e0" stroke-width="1.15" stroke-linejoin="round"/>
<path d="M312.70,404.18L315.10,408.28L310.30,408.28Z" fill="#5ba6e0"/>
<path d="M321.65,374.50L324.05,378.61L319.25,378.61Z" fill="#5ba6e0"/>
<polyline clip-path="url(#clipD)" points="312.70,406.68 321.65,408.61 333.59,411.19 342.55,415.06 351.50,417.32 363.44,417.32 375.38,415.06 384.34,410.87 393.29,399.90 402.25,403.77 414.19,361.85 426.13,294.45" fill="none" stroke="#1f3f7e" stroke-width="1.15" stroke-linejoin="round"/>
<path d="M312.70,404.18L315.10,408.28L310.30,408.28Z" fill="#1f3f7e"/>
<path d="M321.65,406.11L324.05,410.21L319.25,410.21Z" fill="#1f3f7e"/>
<path d="M333.59,408.69L335.99,412.79L331.19,412.79Z" fill="#1f3f7e"/>
<path d="M342.55,412.56L344.95,416.66L340.15,416.66Z" fill="#1f3f7e"/>
<path d="M351.50,414.82L353.90,418.92L349.11,418.92Z" fill="#1f3f7e"/>
<path d="M363.44,414.82L365.84,418.92L361.05,418.92Z" fill="#1f3f7e"/>
<path d="M375.38,412.56L377.78,416.66L372.99,416.66Z" fill="#1f3f7e"/>
<path d="M384.34,408.37L386.74,412.47L381.94,412.47Z" fill="#1f3f7e"/>
<path d="M393.29,397.40L395.69,401.50L390.89,401.50Z" fill="#1f3f7e"/>
<path d="M402.25,401.27L404.65,405.37L399.85,405.37Z" fill="#1f3f7e"/>
<path d="M414.19,359.35L416.59,363.45L411.79,363.45Z" fill="#1f3f7e"/>
<path d="M426.13,291.95L428.53,296.05L423.73,296.05Z" fill="#1f3f7e"/>
<polyline clip-path="url(#clipD)" points="312.70,406.68 321.65,406.35 333.59,409.58 342.55,414.09 351.50,416.67 363.44,417.32 375.38,415.70 384.34,415.06 393.29,406.35 402.25,394.10 414.19,345.72 426.13,229.30" fill="none" stroke="#4b1b5e" stroke-width="1.15" stroke-linejoin="round"/>
<rect x="310.70" y="404.68" width="4" height="4" fill="#4b1b5e"/>
<rect x="319.65" y="404.35" width="4" height="4" fill="#4b1b5e"/>
<rect x="331.59" y="407.58" width="4" height="4" fill="#4b1b5e"/>
<rect x="340.55" y="412.09" width="4" height="4" fill="#4b1b5e"/>
<rect x="349.50" y="414.67" width="4" height="4" fill="#4b1b5e"/>
<rect x="361.44" y="415.32" width="4" height="4" fill="#4b1b5e"/>
<rect x="373.38" y="413.70" width="4" height="4" fill="#4b1b5e"/>
<rect x="382.34" y="413.06" width="4" height="4" fill="#4b1b5e"/>
<rect x="391.29" y="404.35" width="4" height="4" fill="#4b1b5e"/>
<rect x="400.25" y="392.10" width="4" height="4" fill="#4b1b5e"/>
<rect x="412.19" y="343.72" width="4" height="4" fill="#4b1b5e"/>
<polyline clip-path="url(#clipD)" points="312.70,406.68 321.65,411.84 333.59,413.12 342.55,416.03 351.50,417.96 363.44,419.90 375.38,419.90 384.34,422.80 393.29,422.80 402.25,422.80 414.19,422.80 426.13,422.80 438.07,422.80 447.02,422.80 458.96,422.80 467.92,422.80 479.86,422.80 488.81,422.80 500.75,422.80" fill="none" stroke="#56a535" stroke-width="1.15" stroke-linejoin="round"/>
<path d="M312.70,403.88L315.50,406.68L312.70,409.48L309.90,406.68Z" fill="#56a535"/>
<path d="M321.65,409.04L324.45,411.84L321.65,414.64L318.85,411.84Z" fill="#56a535"/>
<path d="M333.59,410.32L336.39,413.12L333.59,415.93L330.79,413.12Z" fill="#56a535"/>
<path d="M342.55,413.23L345.35,416.03L342.55,418.83L339.75,416.03Z" fill="#56a535"/>
<path d="M351.50,415.16L354.31,417.96L351.50,420.76L348.70,417.96Z" fill="#56a535"/>
<path d="M363.44,417.10L366.25,419.90L363.44,422.70L360.64,419.90Z" fill="#56a535"/>
<path d="M375.38,417.10L378.19,419.90L375.38,422.70L372.58,419.90Z" fill="#56a535"/>
<path d="M384.34,420.00L387.14,422.80L384.34,425.60L381.54,422.80Z" fill="#56a535"/>
<path d="M393.29,420.00L396.09,422.80L393.29,425.60L390.49,422.80Z" fill="#56a535"/>
<path d="M402.25,420.00L405.05,422.80L402.25,425.60L399.45,422.80Z" fill="#56a535"/>
<path d="M414.19,420.00L416.99,422.80L414.19,425.60L411.39,422.80Z" fill="#56a535"/>
<path d="M426.13,420.00L428.93,422.80L426.13,425.60L423.33,422.80Z" fill="#56a535"/>
<path d="M438.07,420.00L440.87,422.80L438.07,425.60L435.27,422.80Z" fill="#56a535"/>
<path d="M447.02,420.00L449.82,422.80L447.02,425.60L444.22,422.80Z" fill="#56a535"/>
<path d="M458.96,420.00L461.76,422.80L458.96,425.60L456.16,422.80Z" fill="#56a535"/>
<path d="M467.92,420.00L470.72,422.80L467.92,425.60L465.12,422.80Z" fill="#56a535"/>
<path d="M479.86,420.00L482.66,422.80L479.86,425.60L477.06,422.80Z" fill="#56a535"/>
<path d="M488.81,420.00L491.61,422.80L488.81,425.60L486.01,422.80Z" fill="#56a535"/>
<path d="M500.75,420.00L503.56,422.80L500.75,425.60L497.95,422.80Z" fill="#56a535"/>
<polyline clip-path="url(#clipD)" points="312.70,406.68 321.65,387.65 333.59,376.04 342.55,371.52 351.50,361.20" fill="none" stroke="#a9bb80" stroke-width="1.15" stroke-linejoin="round"/>
<path d="M312.70,403.88L315.50,406.68L312.70,409.48L309.90,406.68Z" fill="#a9bb80"/>
<path d="M321.65,384.85L324.45,387.65L321.65,390.45L318.85,387.65Z" fill="#a9bb80"/>
<path d="M333.59,373.24L336.39,376.04L333.59,378.84L330.79,376.04Z" fill="#a9bb80"/>
<path d="M342.55,368.72L345.35,371.52L342.55,374.32L339.75,371.52Z" fill="#a9bb80"/>
<path d="M351.50,358.40L354.31,361.20L351.50,364.00L348.70,361.20Z" fill="#a9bb80"/>
<clipPath id="clipE"><rect x="52.5" y="506.70" width="520" height="139.00"/></clipPath>
<rect x="60.70" y="507.40" width="87.95" height="128.60" fill="#e3e3e3"/>
<line x1="58.5" y1="503.50" x2="58.5" y2="636.75" stroke="#000" stroke-width="1.4"/>
<line x1="54.5" y1="636.0" x2="252.60" y2="636.0" stroke="#000" stroke-width="1.6"/>
<line x1="248.60" y1="636.0" x2="248.60" y2="639.7" stroke="#000" stroke-width="1.1"/>
<line x1="54.5" y1="636.00" x2="58.5" y2="636.00" stroke="#000" stroke-width="1.1"/>
<text transform="translate(51.20,639.60)" font-size="10.0" letter-spacing="0.6" text-anchor="end" fill="#1a1a1a">0</text>
<line x1="56.3" y1="619.88" x2="58.5" y2="619.88" stroke="#000" stroke-width="1.1"/>
<line x1="54.5" y1="603.75" x2="58.5" y2="603.75" stroke="#000" stroke-width="1.1"/>
<text transform="translate(51.20,607.35)" font-size="10.0" letter-spacing="0.6" text-anchor="end" fill="#1a1a1a">10</text>
<line x1="56.3" y1="587.62" x2="58.5" y2="587.62" stroke="#000" stroke-width="1.1"/>
<line x1="54.5" y1="571.50" x2="58.5" y2="571.50" stroke="#000" stroke-width="1.1"/>
<text transform="translate(51.20,575.10)" font-size="10.0" letter-spacing="0.6" text-anchor="end" fill="#1a1a1a">20</text>
<line x1="56.3" y1="555.38" x2="58.5" y2="555.38" stroke="#000" stroke-width="1.1"/>
<line x1="54.5" y1="539.25" x2="58.5" y2="539.25" stroke="#000" stroke-width="1.1"/>
<text transform="translate(51.20,542.85)" font-size="10.0" letter-spacing="0.6" text-anchor="end" fill="#1a1a1a">30</text>
<line x1="56.3" y1="523.12" x2="58.5" y2="523.12" stroke="#000" stroke-width="1.1"/>
<line x1="54.5" y1="507.00" x2="58.5" y2="507.00" stroke="#000" stroke-width="1.1"/>
<text transform="translate(51.20,510.60)" font-size="10.0" letter-spacing="0.6" text-anchor="end" fill="#1a1a1a">40</text>
<line x1="58.50" y1="636.0" x2="58.50" y2="639.7" stroke="#000" stroke-width="1.1"/>
<text transform="translate(58.80,652.90)" font-size="10.0" letter-spacing="0.6" text-anchor="middle" fill="#1a1a1a">0</text>
<line x1="73.42" y1="636.0" x2="73.42" y2="639.7" stroke="#000" stroke-width="1.1"/>
<line x1="88.35" y1="636.0" x2="88.35" y2="639.7" stroke="#000" stroke-width="1.1"/>
<text transform="translate(88.65,652.90)" font-size="10.0" letter-spacing="0.6" text-anchor="middle" fill="#1a1a1a">10</text>
<line x1="103.28" y1="636.0" x2="103.28" y2="639.7" stroke="#000" stroke-width="1.1"/>
<line x1="118.20" y1="636.0" x2="118.20" y2="639.7" stroke="#000" stroke-width="1.1"/>
<text transform="translate(118.50,652.90)" font-size="10.0" letter-spacing="0.6" text-anchor="middle" fill="#1a1a1a">20</text>
<line x1="133.12" y1="636.0" x2="133.12" y2="639.7" stroke="#000" stroke-width="1.1"/>
<line x1="148.05" y1="636.0" x2="148.05" y2="639.7" stroke="#000" stroke-width="1.1"/>
<text transform="translate(148.35,652.90)" font-size="10.0" letter-spacing="0.6" text-anchor="middle" fill="#1a1a1a">30</text>
<line x1="162.97" y1="636.0" x2="162.97" y2="639.7" stroke="#000" stroke-width="1.1"/>
<line x1="177.90" y1="636.0" x2="177.90" y2="639.7" stroke="#000" stroke-width="1.1"/>
<text transform="translate(178.20,652.90)" font-size="10.0" letter-spacing="0.6" text-anchor="middle" fill="#1a1a1a">40</text>
<line x1="192.82" y1="636.0" x2="192.82" y2="639.7" stroke="#000" stroke-width="1.1"/>
<line x1="207.75" y1="636.0" x2="207.75" y2="639.7" stroke="#000" stroke-width="1.1"/>
<text transform="translate(208.05,652.90)" font-size="10.0" letter-spacing="0.6" text-anchor="middle" fill="#1a1a1a">50</text>
<line x1="222.67" y1="636.0" x2="222.67" y2="639.7" stroke="#000" stroke-width="1.1"/>
<line x1="237.60" y1="636.0" x2="237.60" y2="639.7" stroke="#000" stroke-width="1.1"/>
<text transform="translate(237.90,652.90)" font-size="10.0" letter-spacing="0.6" text-anchor="middle" fill="#1a1a1a">60</text>
<text transform="translate(155.51,670.00) scale(0.62,1)" font-size="13" text-anchor="middle" fill="#111" stroke="#111" stroke-width="0.35">DAY</text>
<text transform="translate(31.50,569.40) rotate(-90) scale(0.665,1)" font-size="13" text-anchor="middle" fill="#111" stroke="#111" stroke-width="0.35">Million cells</text>
<text x="156.41" y="496.20" font-size="12.1" text-anchor="middle" fill="#111">NK-YS</text>
<text x="9.30" y="484.50" font-size="14.5" font-weight="bold" fill="#000">E</text>
<polyline clip-path="url(#clipE)" points="58.50,619.88 68.35,601.49 79.39,500.55" fill="none" stroke="#bdbdbd" stroke-width="1.15" stroke-linejoin="round"/>
<rect x="56.20" y="617.58" width="4.6" height="4.6" fill="none" stroke="#bdbdbd" stroke-width="1"/>
<rect x="66.05" y="599.19" width="4.6" height="4.6" fill="none" stroke="#bdbdbd" stroke-width="1"/>
<polyline clip-path="url(#clipE)" points="58.50,619.88 67.45,620.52 79.39,616.97 88.35,598.91 97.31,557.63" fill="none" stroke="#5ba6e0" stroke-width="1.15" stroke-linejoin="round"/>
<path d="M58.50,617.38L60.90,621.48L56.10,621.48Z" fill="#5ba6e0"/>
<path d="M67.45,618.02L69.86,622.12L65.05,622.12Z" fill="#5ba6e0"/>
<path d="M79.39,614.47L81.80,618.57L76.99,618.57Z" fill="#5ba6e0"/>
<path d="M88.35,596.41L90.75,600.51L85.95,600.51Z" fill="#5ba6e0"/>
<path d="M97.31,555.13L99.71,559.23L94.91,559.23Z" fill="#5ba6e0"/>
<polyline clip-path="url(#clipE)" points="58.50,619.88 67.45,627.29 79.39,630.20 88.35,632.13 97.31,631.81 106.26,623.42 118.20,610.20 127.16,589.88 139.09,494.10" fill="none" stroke="#1f3f7e" stroke-width="1.15" stroke-linejoin="round"/>
<path d="M58.50,617.38L60.90,621.48L56.10,621.48Z" fill="#1f3f7e"/>
<path d="M67.45,624.79L69.86,628.89L65.05,628.89Z" fill="#1f3f7e"/>
<path d="M79.39,627.70L81.80,631.80L76.99,631.80Z" fill="#1f3f7e"/>
<path d="M88.35,629.63L90.75,633.73L85.95,633.73Z" fill="#1f3f7e"/>
<path d="M97.31,629.31L99.71,633.41L94.91,633.41Z" fill="#1f3f7e"/>
<path d="M106.26,620.92L108.66,625.02L103.86,625.02Z" fill="#1f3f7e"/>
<path d="M118.20,607.70L120.60,611.80L115.80,611.80Z" fill="#1f3f7e"/>
<path d="M127.16,587.38L129.56,591.48L124.75,591.48Z" fill="#1f3f7e"/>
<polyline clip-path="url(#clipE)" points="58.50,619.88 67.45,594.72 76.41,484.42" fill="none" stroke="#4b1b5e" stroke-width="1.15" stroke-linejoin="round"/>
<rect x="56.50" y="617.88" width="4" height="4" fill="#4b1b5e"/>
<rect x="65.45" y="592.72" width="4" height="4" fill="#4b1b5e"/>
<polyline clip-path="url(#clipE)" points="58.50,619.88 67.45,621.49 79.39,628.26 88.35,632.13 97.31,633.58 106.26,633.10 118.20,633.10 127.16,633.42 139.09,635.36 148.05,635.03 159.99,629.55 171.93,617.94 183.87,579.88 192.82,553.44" fill="none" stroke="#56a535" stroke-width="1.15" stroke-linejoin="round"/>
<path d="M58.50,617.08L61.30,619.88L58.50,622.67L55.70,619.88Z" fill="#56a535"/>
<path d="M67.45,618.69L70.25,621.49L67.45,624.29L64.66,621.49Z" fill="#56a535"/>
<path d="M79.39,625.46L82.19,628.26L79.39,631.06L76.59,628.26Z" fill="#56a535"/>
<path d="M88.35,629.33L91.15,632.13L88.35,634.93L85.55,632.13Z" fill="#56a535"/>
<path d="M97.31,630.78L100.11,633.58L97.31,636.38L94.51,633.58Z" fill="#56a535"/>
<path d="M106.26,630.30L109.06,633.10L106.26,635.90L103.46,633.10Z" fill="#56a535"/>
<path d="M118.20,630.30L121.00,633.10L118.20,635.90L115.40,633.10Z" fill="#56a535"/>
<path d="M127.16,630.62L129.96,633.42L127.16,636.22L124.36,633.42Z" fill="#56a535"/>
<path d="M139.09,632.56L141.90,635.36L139.09,638.15L136.29,635.36Z" fill="#56a535"/>
<path d="M148.05,632.23L150.85,635.03L148.05,637.83L145.25,635.03Z" fill="#56a535"/>
<path d="M159.99,626.75L162.79,629.55L159.99,632.35L157.19,629.55Z" fill="#56a535"/>
<path d="M171.93,615.14L174.73,617.94L171.93,620.74L169.13,617.94Z" fill="#56a535"/>
<path d="M183.87,577.09L186.67,579.88L183.87,582.68L181.07,579.88Z" fill="#56a535"/>
<path d="M192.82,550.64L195.62,553.44L192.82,556.24L190.02,553.44Z" fill="#56a535"/>
<polyline clip-path="url(#clipE)" points="58.50,619.88 67.45,616.65 79.39,622.78 88.35,628.58 97.31,627.62 106.26,624.39 118.20,620.52 127.16,613.75 139.09,545.70 148.05,507.00" fill="none" stroke="#a9bb80" stroke-width="1.15" stroke-linejoin="round"/>
<path d="M58.50,617.08L61.30,619.88L58.50,622.67L55.70,619.88Z" fill="#a9bb80"/>
<path d="M67.45,613.85L70.25,616.65L67.45,619.45L64.66,616.65Z" fill="#a9bb80"/>
<path d="M79.39,619.98L82.19,622.78L79.39,625.58L76.59,622.78Z" fill="#a9bb80"/>
<path d="M88.35,625.78L91.15,628.58L88.35,631.38L85.55,628.58Z" fill="#a9bb80"/>
<path d="M97.31,624.82L100.11,627.62L97.31,630.41L94.51,627.62Z" fill="#a9bb80"/>
<path d="M106.26,621.59L109.06,624.39L106.26,627.19L103.46,624.39Z" fill="#a9bb80"/>
<path d="M118.20,617.72L121.00,620.52L118.20,623.32L115.40,620.52Z" fill="#a9bb80"/>
<path d="M127.16,610.95L129.96,613.75L127.16,616.55L124.36,613.75Z" fill="#a9bb80"/>
<path d="M139.09,542.90L141.90,545.70L139.09,548.50L136.29,545.70Z" fill="#a9bb80"/>
<path d="M148.05,504.20L150.85,507.00L148.05,509.80L145.25,507.00Z" fill="#a9bb80"/>
<clipPath id="clipF"><rect x="306.8" y="506.70" width="520" height="139.00"/></clipPath>
<rect x="315.00" y="507.40" width="87.95" height="128.60" fill="#e3e3e3"/>
<line x1="312.8" y1="503.50" x2="312.8" y2="636.75" stroke="#000" stroke-width="1.4"/>
<line x1="308.8" y1="636.0" x2="511.00" y2="636.0" stroke="#000" stroke-width="1.6"/>
<line x1="308.8" y1="636.00" x2="312.8" y2="636.00" stroke="#000" stroke-width="1.1"/>
<text transform="translate(305.50,639.60)" font-size="10.0" letter-spacing="0.6" text-anchor="end" fill="#1a1a1a">0</text>
<line x1="310.6" y1="619.88" x2="312.8" y2="619.88" stroke="#000" stroke-width="1.1"/>
<line x1="308.8" y1="603.75" x2="312.8" y2="603.75" stroke="#000" stroke-width="1.1"/>
<text transform="translate(305.50,607.35)" font-size="10.0" letter-spacing="0.6" text-anchor="end" fill="#1a1a1a">10</text>
<line x1="310.6" y1="587.62" x2="312.8" y2="587.62" stroke="#000" stroke-width="1.1"/>
<line x1="308.8" y1="571.50" x2="312.8" y2="571.50" stroke="#000" stroke-width="1.1"/>
<text transform="translate(305.50,575.10)" font-size="10.0" letter-spacing="0.6" text-anchor="end" fill="#1a1a1a">20</text>
<line x1="310.6" y1="555.38" x2="312.8" y2="555.38" stroke="#000" stroke-width="1.1"/>
<line x1="308.8" y1="539.25" x2="312.8" y2="539.25" stroke="#000" stroke-width="1.1"/>
<text transform="translate(305.50,542.85)" font-size="10.0" letter-spacing="0.6" text-anchor="end" fill="#1a1a1a">30</text>
<line x1="310.6" y1="523.12" x2="312.8" y2="523.12" stroke="#000" stroke-width="1.1"/>
<line x1="308.8" y1="507.00" x2="312.8" y2="507.00" stroke="#000" stroke-width="1.1"/>
<text transform="translate(305.50,510.60)" font-size="10.0" letter-spacing="0.6" text-anchor="end" fill="#1a1a1a">40</text>
<line x1="312.80" y1="636.0" x2="312.80" y2="639.7" stroke="#000" stroke-width="1.1"/>
<text transform="translate(313.10,652.90)" font-size="10.0" letter-spacing="0.6" text-anchor="middle" fill="#1a1a1a">0</text>
<line x1="327.73" y1="636.0" x2="327.73" y2="639.7" stroke="#000" stroke-width="1.1"/>
<line x1="342.65" y1="636.0" x2="342.65" y2="639.7" stroke="#000" stroke-width="1.1"/>
<text transform="translate(342.95,652.90)" font-size="10.0" letter-spacing="0.6" text-anchor="middle" fill="#1a1a1a">10</text>
<line x1="357.57" y1="636.0" x2="357.57" y2="639.7" stroke="#000" stroke-width="1.1"/>
<line x1="372.50" y1="636.0" x2="372.50" y2="639.7" stroke="#000" stroke-width="1.1"/>
<text transform="translate(372.80,652.90)" font-size="10.0" letter-spacing="0.6" text-anchor="middle" fill="#1a1a1a">20</text>
<line x1="387.43" y1="636.0" x2="387.43" y2="639.7" stroke="#000" stroke-width="1.1"/>
<line x1="402.35" y1="636.0" x2="402.35" y2="639.7" stroke="#000" stroke-width="1.1"/>
<text transform="translate(402.65,652.90)" font-size="10.0" letter-spacing="0.6" text-anchor="middle" fill="#1a1a1a">30</text>
<line x1="417.27" y1="636.0" x2="417.27" y2="639.7" stroke="#000" stroke-width="1.1"/>
<line x1="432.20" y1="636.0" x2="432.20" y2="639.7" stroke="#000" stroke-width="1.1"/>
<text transform="translate(432.50,652.90)" font-size="10.0" letter-spacing="0.6" text-anchor="middle" fill="#1a1a1a">40</text>
<line x1="447.12" y1="636.0" x2="447.12" y2="639.7" stroke="#000" stroke-width="1.1"/>
<line x1="462.05" y1="636.0" x2="462.05" y2="639.7" stroke="#000" stroke-width="1.1"/>
<text transform="translate(462.35,652.90)" font-size="10.0" letter-spacing="0.6" text-anchor="middle" fill="#1a1a1a">50</text>
<line x1="476.98" y1="636.0" x2="476.98" y2="639.7" stroke="#000" stroke-width="1.1"/>
<line x1="491.90" y1="636.0" x2="491.90" y2="639.7" stroke="#000" stroke-width="1.1"/>
<text transform="translate(492.20,652.90)" font-size="10.0" letter-spacing="0.6" text-anchor="middle" fill="#1a1a1a">60</text>
<line x1="506.83" y1="636.0" x2="506.83" y2="639.7" stroke="#000" stroke-width="1.1"/>
<text transform="translate(409.81,670.00) scale(0.62,1)" font-size="13" text-anchor="middle" fill="#111" stroke="#111" stroke-width="0.35">DAY</text>
<text transform="translate(285.80,569.40) rotate(-90) scale(0.665,1)" font-size="13" text-anchor="middle" fill="#111" stroke="#111" stroke-width="0.35">Million cells</text>
<text x="410.71" y="496.20" font-size="12.1" text-anchor="middle" fill="#111">NK-92</text>
<text x="265.00" y="484.50" font-size="14.5" font-weight="bold" fill="#000">F</text>
<polyline clip-path="url(#clipF)" points="312.80,619.88 321.75,603.75 333.69,575.37 342.65,516.67" fill="none" stroke="#bdbdbd" stroke-width="1.15" stroke-linejoin="round"/>
<rect x="310.50" y="617.58" width="4.6" height="4.6" fill="none" stroke="#bdbdbd" stroke-width="1"/>
<rect x="319.45" y="601.45" width="4.6" height="4.6" fill="none" stroke="#bdbdbd" stroke-width="1"/>
<rect x="331.39" y="573.07" width="4.6" height="4.6" fill="none" stroke="#bdbdbd" stroke-width="1"/>
<rect x="340.35" y="514.38" width="4.6" height="4.6" fill="none" stroke="#bdbdbd" stroke-width="1"/>
<polyline clip-path="url(#clipF)" points="312.80,619.88 321.75,601.82 333.69,562.47" fill="none" stroke="#5ba6e0" stroke-width="1.15" stroke-linejoin="round"/>
<path d="M312.80,617.38L315.20,621.48L310.40,621.48Z" fill="#5ba6e0"/>
<path d="M321.75,599.32L324.15,603.42L319.36,603.42Z" fill="#5ba6e0"/>
<path d="M333.69,559.97L336.09,564.07L331.30,564.07Z" fill="#5ba6e0"/>
<polyline clip-path="url(#clipF)" points="312.80,619.88 321.75,606.33 333.69,599.88 342.65,595.37 354.59,625.68 363.55,614.72 375.49,622.46 384.44,628.26 393.39,630.84 402.35,631.49 414.29,628.90 423.25,622.46 435.19,615.04 444.14,605.68 456.08,568.27 465.03,560.21" fill="none" stroke="#1f3f7e" stroke-width="1.15" stroke-linejoin="round"/>
<path d="M312.80,617.38L315.20,621.48L310.40,621.48Z" fill="#1f3f7e"/>
<path d="M321.75,603.83L324.15,607.93L319.36,607.93Z" fill="#1f3f7e"/>
<path d="M333.69,597.38L336.09,601.48L331.30,601.48Z" fill="#1f3f7e"/>
<path d="M342.65,592.87L345.05,596.97L340.25,596.97Z" fill="#1f3f7e"/>
<path d="M354.59,623.18L356.99,627.28L352.19,627.28Z" fill="#1f3f7e"/>
<path d="M363.55,612.22L365.94,616.32L361.15,616.32Z" fill="#1f3f7e"/>
<path d="M375.49,619.96L377.88,624.06L373.09,624.06Z" fill="#1f3f7e"/>
<path d="M384.44,625.76L386.84,629.86L382.04,629.86Z" fill="#1f3f7e"/>
<path d="M393.39,628.34L395.79,632.44L391.00,632.44Z" fill="#1f3f7e"/>
<path d="M402.35,628.99L404.75,633.09L399.95,633.09Z" fill="#1f3f7e"/>
<path d="M414.29,626.40L416.69,630.50L411.89,630.50Z" fill="#1f3f7e"/>
<path d="M423.25,619.96L425.64,624.06L420.85,624.06Z" fill="#1f3f7e"/>
<path d="M435.19,612.54L437.58,616.64L432.79,616.64Z" fill="#1f3f7e"/>
<path d="M444.14,603.18L446.54,607.28L441.74,607.28Z" fill="#1f3f7e"/>
<path d="M456.08,565.77L458.48,569.88L453.68,569.88Z" fill="#1f3f7e"/>
<path d="M465.03,557.71L467.43,561.81L462.63,561.81Z" fill="#1f3f7e"/>
<polyline clip-path="url(#clipF)" points="312.80,619.88 321.75,599.56 333.69,588.91 342.65,583.43 354.59,573.11 363.55,560.21 375.49,556.34" fill="none" stroke="#4b1b5e" stroke-width="1.15" stroke-linejoin="round"/>
<rect x="310.80" y="617.88" width="4" height="4" fill="#4b1b5e"/>
<rect x="319.75" y="597.56" width="4" height="4" fill="#4b1b5e"/>
<rect x="331.69" y="586.91" width="4" height="4" fill="#4b1b5e"/>
<rect x="340.65" y="581.43" width="4" height="4" fill="#4b1b5e"/>
<rect x="352.59" y="571.11" width="4" height="4" fill="#4b1b5e"/>
<rect x="361.55" y="558.21" width="4" height="4" fill="#4b1b5e"/>
<rect x="373.49" y="554.34" width="4" height="4" fill="#4b1b5e"/>
<polyline clip-path="url(#clipF)" points="312.80,619.88 321.75,616.65 333.69,626.65 342.65,627.29 354.59,631.81 363.55,634.07 375.49,635.36 384.44,635.36 393.39,635.36 402.35,635.36 414.29,635.36 423.25,635.36 435.19,635.36 444.14,635.36 456.08,635.36 465.03,635.36 476.98,635.36 485.93,635.36 497.87,635.36" fill="none" stroke="#56a535" stroke-width="1.15" stroke-linejoin="round"/>
<path d="M312.80,617.08L315.60,619.88L312.80,622.67L310.00,619.88Z" fill="#56a535"/>
<path d="M321.75,613.85L324.56,616.65L321.75,619.45L318.95,616.65Z" fill="#56a535"/>
<path d="M333.69,623.85L336.50,626.65L333.69,629.45L330.89,626.65Z" fill="#56a535"/>
<path d="M342.65,624.49L345.45,627.29L342.65,630.09L339.85,627.29Z" fill="#56a535"/>
<path d="M354.59,629.01L357.39,631.81L354.59,634.61L351.79,631.81Z" fill="#56a535"/>
<path d="M363.55,631.27L366.35,634.07L363.55,636.87L360.75,634.07Z" fill="#56a535"/>
<path d="M375.49,632.56L378.29,635.36L375.49,638.15L372.69,635.36Z" fill="#56a535"/>
<path d="M384.44,632.56L387.24,635.36L384.44,638.15L381.64,635.36Z" fill="#56a535"/>
<path d="M393.39,632.56L396.19,635.36L393.39,638.15L390.59,635.36Z" fill="#56a535"/>
<path d="M402.35,632.56L405.15,635.36L402.35,638.15L399.55,635.36Z" fill="#56a535"/>
<path d="M414.29,632.56L417.09,635.36L414.29,638.15L411.49,635.36Z" fill="#56a535"/>
<path d="M423.25,632.56L426.05,635.36L423.25,638.15L420.44,635.36Z" fill="#56a535"/>
<path d="M435.19,632.56L437.99,635.36L435.19,638.15L432.38,635.36Z" fill="#56a535"/>
<path d="M444.14,632.56L446.94,635.36L444.14,638.15L441.34,635.36Z" fill="#56a535"/>
<path d="M456.08,632.56L458.88,635.36L456.08,638.15L453.28,635.36Z" fill="#56a535"/>
<path d="M465.03,632.56L467.83,635.36L465.03,638.15L462.23,635.36Z" fill="#56a535"/>
<path d="M476.98,632.56L479.78,635.36L476.98,638.15L474.18,635.36Z" fill="#56a535"/>
<path d="M485.93,632.56L488.73,635.36L485.93,638.15L483.13,635.36Z" fill="#56a535"/>
<path d="M497.87,632.56L500.67,635.36L497.87,638.15L495.07,635.36Z" fill="#56a535"/>
<polyline clip-path="url(#clipF)" points="312.80,619.88 321.75,602.78 333.69,593.11 342.65,546.02" fill="none" stroke="#a9bb80" stroke-width="1.15" stroke-linejoin="round"/>
<path d="M312.80,617.08L315.60,619.88L312.80,622.67L310.00,619.88Z" fill="#a9bb80"/>
<path d="M321.75,599.98L324.56,602.78L321.75,605.58L318.95,602.78Z" fill="#a9bb80"/>
<path d="M333.69,590.31L336.50,593.11L333.69,595.91L330.89,593.11Z" fill="#a9bb80"/>
<path d="M342.65,543.22L345.45,546.02L342.65,548.82L339.85,546.02Z" fill="#a9bb80"/>
<g transform="translate(108.5,690.3)"><line x1="-5.5" y1="0" x2="5.5" y2="0" stroke="#cdcdcd" stroke-width="1.1"/>
<g transform="scale(0.8)"><rect x="-2.30" y="-2.30" width="4.6" height="4.6" fill="#e8e8e8" stroke="#cdcdcd" stroke-width="1"/></g></g>
<text x="118.5" y="692.90" font-size="9.8" textLength="28.4" lengthAdjust="spacingAndGlyphs" fill="#1a1a1a">DMSO</text>
<g transform="translate(211.5,690.3)"><line x1="-5.5" y1="0" x2="5.5" y2="0" stroke="#5ba6e0" stroke-width="1.1"/>
<g transform="scale(0.8)"><path d="M0.00,-2.50L2.40,1.60L-2.40,1.60Z" fill="#5ba6e0"/></g></g>
<text x="221" y="692.90" font-size="9.8" textLength="80.8" lengthAdjust="spacingAndGlyphs" fill="#1a1a1a">idasanutlin, 300 nM</text>
<g transform="translate(326.9,690.3)"><line x1="-5.5" y1="0" x2="5.5" y2="0" stroke="#a9bb80" stroke-width="1.1"/>
<g transform="scale(0.8)"><path d="M0.00,-2.80L2.80,0.00L0.00,2.80L-2.80,0.00Z" fill="#a9bb80"/></g></g>
<text x="336.6" y="692.90" font-size="9.8" textLength="72.4" lengthAdjust="spacingAndGlyphs" fill="#1a1a1a">tipifarnib, 200 nM</text>
<g transform="translate(108.5,706.6)"><line x1="-5.5" y1="0" x2="5.5" y2="0" stroke="#4b1b5e" stroke-width="1.1"/>
<g transform="scale(0.8)"><rect x="-2.00" y="-2.00" width="4" height="4" fill="#4b1b5e"/></g></g>
<text x="118.4" y="709.20" font-size="9.8" textLength="75.3" lengthAdjust="spacingAndGlyphs" fill="#1a1a1a">ruxolitinib, 100 nM</text>
<g transform="translate(211.5,706.6)"><line x1="-5.5" y1="0" x2="5.5" y2="0" stroke="#1f3f7e" stroke-width="1.1"/>
<g transform="scale(0.8)"><path d="M0.00,-2.50L2.40,1.60L-2.40,1.60Z" fill="#1f3f7e"/></g></g>
<text x="221" y="709.20" font-size="9.8" textLength="88.7" lengthAdjust="spacingAndGlyphs" fill="#1a1a1a">idasanutlin+ruxolitinib</text>
<g transform="translate(326.9,706.6)"><line x1="-5.5" y1="0" x2="5.5" y2="0" stroke="#56a535" stroke-width="1.1"/>
<g transform="scale(0.8)"><path d="M0.00,-2.80L2.80,0.00L0.00,2.80L-2.80,0.00Z" fill="#56a535"/></g></g>
<text x="336.6" y="709.20" font-size="9.8" textLength="79.8" lengthAdjust="spacingAndGlyphs" fill="#1a1a1a">tipifarnib+ruxolitinib</text>
<rect x="0" y="0" width="520" height="1.4" fill="#000"/>
<rect x="0" y="0" width="1.4" height="721" fill="#000"/>
<rect x="518.4" y="0" width="1.6" height="721" fill="#000"/>
<rect x="0" y="719.1" width="520" height="1.9" fill="#000"/>
</svg>
</body></html>
